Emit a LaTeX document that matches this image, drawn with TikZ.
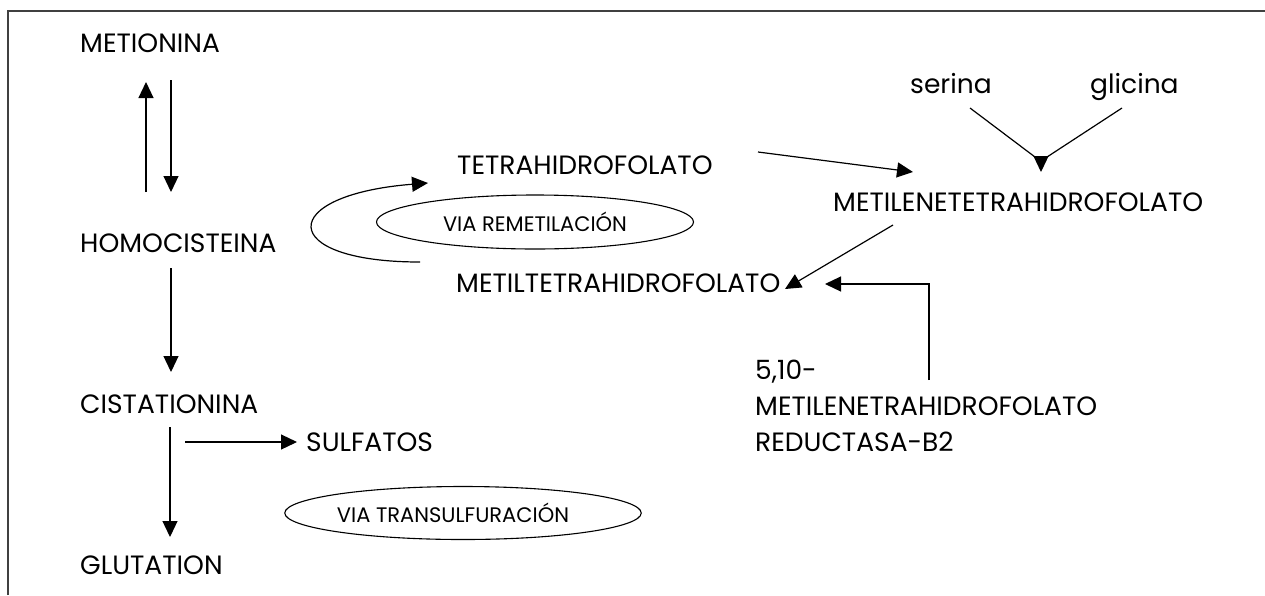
\documentclass[tikz,border=0pt]{standalone}
\usepackage{fontspec}
\setmainfont{Poppins}
\usetikzlibrary{arrows.meta,shapes.geometric}
\begin{document}
\begin{tikzpicture}[x=1pt,y=-1pt,
  lbl/.style={anchor=base west,inner sep=0pt,font=\fontsize{26.5}{30}\selectfont},
  sm/.style={inner sep=0pt,font=\fontsize{21}{25}\selectfont},
  oval/.style={ellipse,draw,line width=1.1pt,inner sep=0pt},
  arr/.style={line width=1.2pt,-{Triangle[length=16pt,width=15pt]}},
  ln/.style={line width=1.2pt},
  frame/.style={line width=2pt,draw=black!75}]
\useasboundingbox (0,0) rectangle (1265,595);
\draw[frame] (8,595) -- (8,10.5) -- (1265,10.5);
% nodes
\node[lbl] (met) at (80,52) {METIONINA};
\node[lbl] (hom) at (80,252) {HOMOCISTEINA};
\node[lbl] (cis) at (80,413) {CISTATIONINA};
\node[lbl] (glu) at (80,574) {GLUTATION};
\node[lbl] (sul) at (306,451) {SULFATOS};
\node[lbl] (thf) at (457,174) {TETRAHIDROFOLATO};
\node[lbl] (mthf) at (456,292) {METILTETRAHIDROFOLATO};
\node[lbl] (mlthf) at (833,211) {METILENETETRAHIDROFOLATO};
\node[lbl] (ser) at (910,93) {serina};
\node[lbl] (gli) at (1090,93) {glicina};
\node[lbl,align=left] (red) at (755,451) {5,10-\\[6pt]METILENETRAHIDROFOLATO\\[6pt]REDUCTASA-B2};
\node[oval,sm,minimum width=317,minimum height=54] (remet) at (535,222) {VIA REMETILACIÓN};
\node[oval,sm,minimum width=317,minimum height=53] (trans) at (463,513) {VIA TRANSULFURACIÓN\hspace*{20pt}};
% coordinates
\coordinate (a1s) at (146,192); \coordinate (a1e) at (146,82);
\coordinate (a2s) at (171,80);  \coordinate (a2e) at (171,192);
\coordinate (a3s) at (171,268); \coordinate (a3e) at (171,372);
\coordinate (a4s) at (170,427); \coordinate (a4e) at (170,537);
\coordinate (a5s) at (185,442); \coordinate (a5e) at (297,442);
\coordinate (a6s) at (758,152); \coordinate (a6e) at (913,172);
\coordinate (serE) at (970,108); \coordinate (gliE) at (1122,108);
\coordinate (vl) at (1035,157); \coordinate (vr) at (1047,157);
\coordinate (vtop) at (1041,156); \coordinate (vtip) at (1041,172);
\coordinate (a8s) at (893,225); \coordinate (a8e) at (785,289);
\coordinate (a9s) at (929,380); \coordinate (a9c) at (929,284); \coordinate (a9e) at (825,284);
\coordinate (ls) at (420,262); \coordinate (le) at (428,183);
% connectors
\draw[arr] (a1s) -- (a1e);
\draw[arr] (a2s) -- (a2e);
\draw[arr] (a3s) -- (a3e);
\draw[arr] (a4s) -- (a4e);
\draw[arr] (a5s) -- (a5e);
\draw[arr] (a6s) -- (a6e);
\draw[ln] (serE) -- (vl);
\draw[ln] (gliE) -- (vr);
\draw[arr] (vtop) -- (vtip);
\draw[arr] (a8s) -- (a8e);
\draw[arr] (a9s) -- (a9c) -- (a9e);
\draw[arr] (ls) .. controls (276,262) and (276,195) .. (le);
\end{tikzpicture}
\end{document}
